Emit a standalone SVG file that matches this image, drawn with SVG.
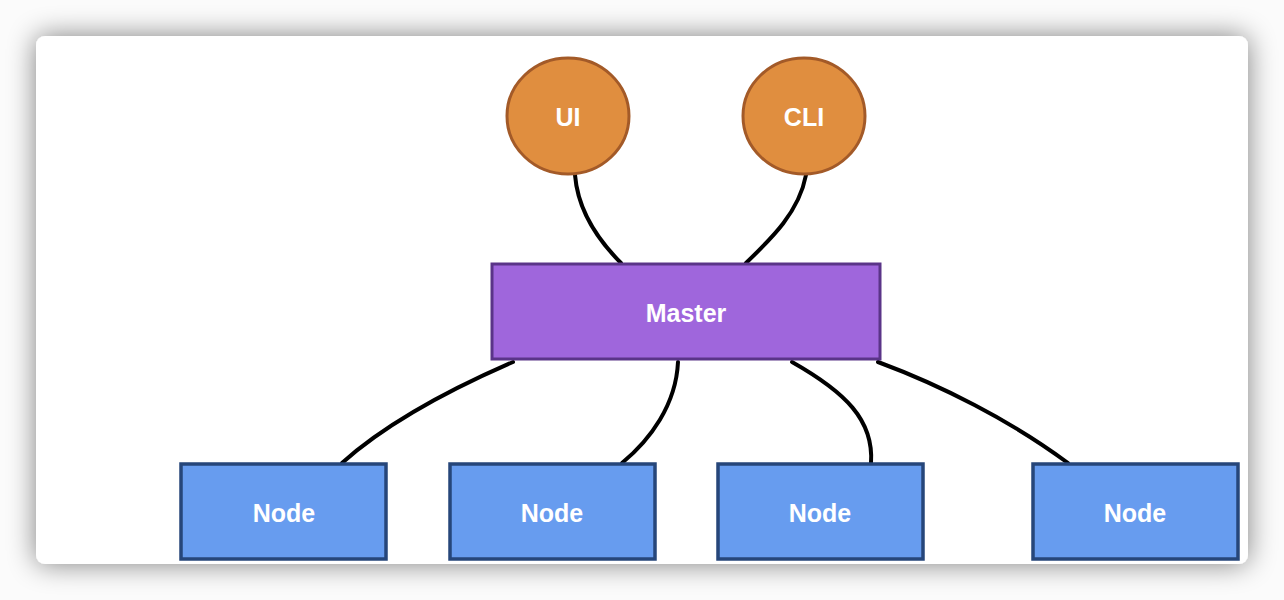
<svg xmlns="http://www.w3.org/2000/svg" width="1284" height="600" viewBox="0 0 1284 600">
<defs>
<filter id="shadow" x="-10%" y="-20%" width="120%" height="140%">
<feGaussianBlur in="SourceAlpha" stdDeviation="14"/>
<feComponentTransfer><feFuncA type="linear" slope="0.5"/></feComponentTransfer>
<feMerge><feMergeNode/><feMergeNode in="SourceGraphic"/></feMerge>
</filter>
<style>
.lbl{font-family:"Liberation Sans",Arial,sans-serif;font-weight:bold;font-size:25px;fill:#ffffff;text-anchor:middle;dominant-baseline:central}
.circ{fill:#e08e3f;stroke:#a35a28;stroke-width:3}
.master{fill:#9f66dc;stroke:#5a3488;stroke-width:3}
.node{fill:#679cef;stroke:#26467a;stroke-width:3.5}
.conn{fill:none;stroke:#000000;stroke-width:4;stroke-linecap:round}
</style>
</defs>
<rect x="0" y="0" width="1284" height="600" fill="#fbfbfb"/>
<rect x="36" y="36" width="1212" height="528" rx="9" fill="#ffffff" filter="url(#shadow)"/>
<g id="connectors">
<path class="conn" d="M575,175 C578,212 598,240 621,263"/>
<path class="conn" d="M806,175 C799,212 772,238 746,263"/>
<path class="conn" d="M513,362 C460,385 390,420 342,463"/>
<path class="conn" d="M678,362 C676,405 650,440 622,463"/>
<path class="conn" d="M792,362 C845,392 874,420 871,463"/>
<path class="conn" d="M878,362 C940,385 1010,420 1068,463"/>
</g>
<g id="ui"><ellipse class="circ" cx="568" cy="116" rx="61" ry="58"/><text class="lbl" x="568" y="117">UI</text></g>
<g id="cli"><ellipse class="circ" cx="804" cy="116" rx="61" ry="58"/><text class="lbl" x="804" y="117">CLI</text></g>
<g id="master"><rect class="master" x="492" y="264" width="388" height="95"/><text class="lbl" x="686" y="313">Master</text></g>
<g id="node1"><rect class="node" x="181" y="464" width="205" height="95"/><text class="lbl" x="284" y="513">Node</text></g>
<g id="node2"><rect class="node" x="450" y="464" width="205" height="95"/><text class="lbl" x="552" y="513">Node</text></g>
<g id="node3"><rect class="node" x="718" y="464" width="205" height="95"/><text class="lbl" x="820" y="513">Node</text></g>
<g id="node4"><rect class="node" x="1033" y="464" width="205" height="95"/><text class="lbl" x="1135" y="513">Node</text></g>
</svg>
